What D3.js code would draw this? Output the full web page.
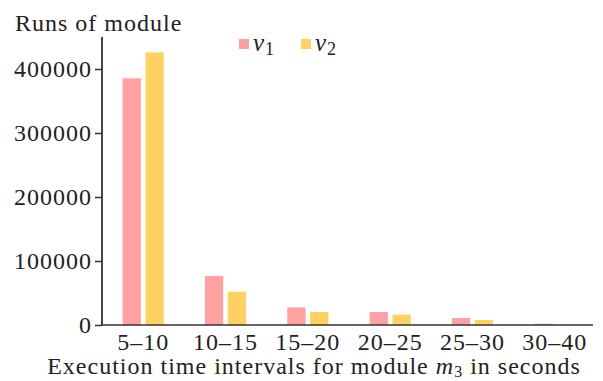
<!DOCTYPE html>
<html>
<head>
<meta charset="utf-8">
<script src="https://cdn.jsdelivr.net/npm/d3@7"></script>
<style>
  body { margin: 0; background: #fff; }
  svg text { font-family: "Liberation Serif", "DejaVu Serif", serif; fill: #222; letter-spacing: 1px; }
</style>
</head>
<body>
<div id="chart"></div>
<script>
// Datos
const intervals = ["5–10", "10–15", "15–20", "20–25", "25–30", "30–40"];
const seriesNames = ["v1", "v2"];
const v1Values = [385500, 76500, 27500, 20300, 10900, 2000];
const v2Values = [426000, 52000, 20300, 16100, 7800, 0];
const yTicks = [0, 100000, 200000, 300000, 400000];

const width = 603;
const height = 381;
const colors = { v1: "#ffa1a3", v2: "#ffd163" };
const fontSize = "24px";

const svg = d3.select("#chart")
  .append("svg")
  .attr("width", width)
  .attr("height", height);

const rows = intervals.map((c, i) => ({ cat: c, v1: v1Values[i], v2: v2Values[i] }));

// Escalas
const x0 = d3.scaleBand()
  .domain(intervals)
  .range([102, 596])
  .paddingInner(0.5)
  .paddingOuter(0.25);

const x1 = d3.scaleBand()
  .domain(seriesNames)
  .range([0, x0.bandwidth()])
  .paddingInner(0.2);

const y = d3.scaleLinear()
  .domain([0, 400000])
  .range([325, 69]);

// Barras
const groups = svg.append("g")
  .selectAll("g")
  .data(rows)
  .enter()
  .append("g")
  .attr("transform", d => `translate(${x0(d.cat)},0)`);

groups.selectAll("rect")
  .data(d => seriesNames.map(k => ({ key: k, value: d[k] })))
  .enter()
  .append("rect")
  .attr("x", d => x1(d.key))
  .attr("y", d => y(d.value))
  .attr("width", x1.bandwidth())
  .attr("height", d => y(0) - y(d.value))
  .attr("fill", d => colors[d.key]);

// Eje Y
const yAxis = svg.append("g")
  .attr("transform", "translate(102,0)")
  .call(d3.axisLeft(y).tickValues(yTicks).tickSize(7).tickPadding(3).tickFormat(d3.format("d")));
yAxis.attr("font-family", "Liberation Serif").attr("font-size", fontSize);
yAxis.select(".domain").attr("d", "M0,37V325").attr("stroke", "#444").attr("stroke-width", 2);
yAxis.selectAll(".tick line").attr("stroke", "#333").attr("stroke-width", 1.5);
yAxis.selectAll(".tick text").attr("fill", "#222");

// Eje X
const xAxis = svg.append("g")
  .attr("transform", "translate(0,325)")
  .call(d3.axisBottom(x0).tickSize(0).tickPadding(8));
xAxis.attr("font-family", "Liberation Serif").attr("font-size", fontSize);
xAxis.select(".domain").attr("d", "M102,0H593").attr("stroke", "#333").attr("stroke-width", 1.5);
xAxis.selectAll(".tick text").attr("fill", "#222");

// Títulos
svg.append("text")
  .attr("x", 15)
  .attr("y", 31)
  .style("font-size", fontSize)
  .text("Runs of module");

const xt = svg.append("text")
  .attr("x", 314)
  .attr("y", 374)
  .attr("text-anchor", "middle")
  .style("font-size", fontSize);
xt.append("tspan").text("Execution time intervals for module ");
xt.append("tspan").attr("font-style", "italic").text("m");
xt.append("tspan").attr("dy", 3).style("font-size", "16px").text("3");
xt.append("tspan").attr("dy", -3).text(" in seconds");

// Leyenda
const legend = svg.append("g");
[["v1", 239, "1"], ["v2", 301, "2"]].forEach(([k, lx, sub]) => {
  legend.append("rect")
    .attr("x", lx).attr("y", 39)
    .attr("width", 10).attr("height", 10)
    .attr("fill", colors[k]);
  const t = legend.append("text")
    .attr("x", lx + 14)
    .attr("y", 51)
    .style("font-size", "25px");
  t.append("tspan").attr("font-style", "italic").text("v");
  t.append("tspan").attr("dy", 4).style("font-size", "18px").text(sub);
});
</script>
</body>
</html>
